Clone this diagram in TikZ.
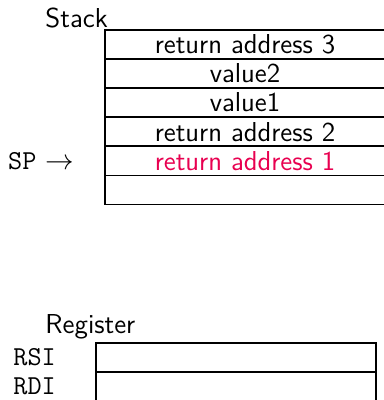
\documentclass[tikz,border=0pt]{standalone}
\usepackage{amsmath}
\usepackage{color}
\usepackage{tikz}
\usetikzlibrary{positioning}
\definecolor{alertred}{RGB}{232,0,80}
\renewcommand{\familydefault}{\sfdefault}
\newcommand{\slidefont}{\fontsize{11.5}{13}\selectfont}

\begin{document}
\begin{tikzpicture}[x=0.42pt,y=0.42pt]
\tikzset{cell/.style = {shape=rectangle,draw,line width=0.6pt,minimum
width=117.6pt,minimum height=12.2pt,inner sep=0pt,outer sep=0pt,font=\slidefont}}
\tikzset{title/.style = {anchor=base west,inner sep=0pt,font=\slidefont}}
\tikzset{reg/.style = {font=\ttfamily\slidefont,inner sep=0pt}}
\useasboundingbox (0,0) rectangle (383,400);
% stack
\node[title] (stack) at (45,372) {Stack};
\node[cell,anchor=north west] (s3) at (105,370) {return address 3};
\node[cell,below=0pt of s3] (v2) {value2};
\node[cell,below=0pt of v2] (v1) {value1};
\node[cell,below=0pt of v1] (s2) {return address 2};
\node[cell,below=0pt of s2,text=alertred] (s1) {return address 1};
\node[cell,below=0pt of s1] (s0) {};
\node[reg,left=12.6pt of s1.west] (sp) {SP\hspace{4pt}$\rightarrow$};
% registers
\node[title] (register) at (45,66) {Register};
\node[cell,anchor=north west] (rsi) at (96,57) {};
\node[cell,below=0pt of rsi] (rdi) {};
\node[reg,anchor=west] (rsilabel) at (13,0 |- rsi) {RSI};
\node[reg,anchor=west] (rdilabel) at (13,0 |- rdi) {RDI};
\end{tikzpicture}
\end{document}
